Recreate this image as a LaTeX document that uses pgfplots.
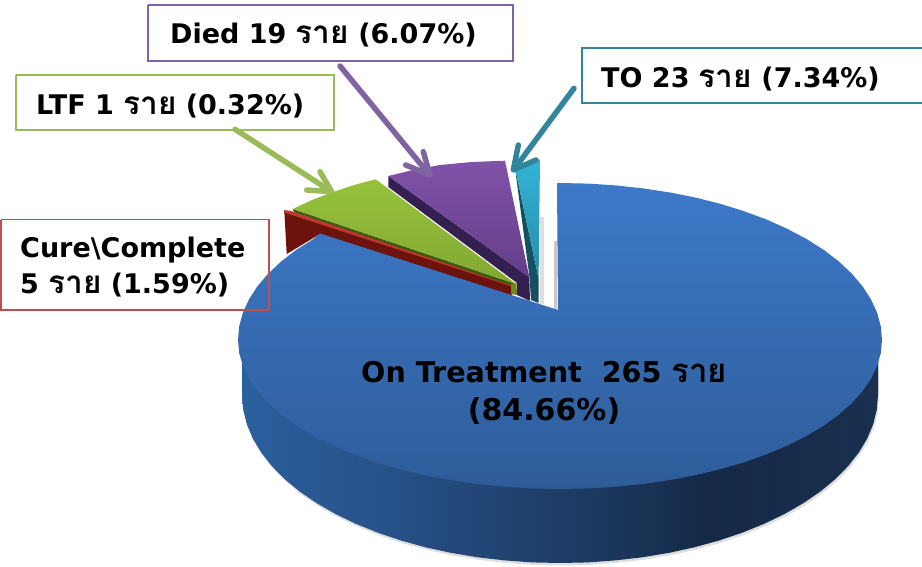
\documentclass[border=0pt]{standalone}
\usepackage{pgfplots}
\pgfplotsset{compat=1.18}
\usepackage{fontspec}
\setmainfont{DejaVu Sans}
\newfontfamily\thaifont[Script=Thai]{Loma}
\definecolor{boxpurple}{HTML}{8064A2}
\definecolor{boxgreen}{HTML}{9BBB59}
\definecolor{boxred}{HTML}{C0504D}
\definecolor{boxteal}{HTML}{31859C}
\definecolor{sa}{HTML}{2B5F9E}
\definecolor{sb}{HTML}{27538C}
\definecolor{sc}{HTML}{1E3D66}
\definecolor{sd}{HTML}{152946}
\definecolor{se}{HTML}{19304F}
\pgfdeclarehorizontalshading{sideshade}{100bp}{
 color(0bp)=(sa);
 color(25bp)=(sa);
 color(35bp)=(sb);
 color(50bp)=(sc);
 color(62bp)=(sd);
 color(75bp)=(se);
 color(100bp)=(se)}
\pgfplotstableread{
x y
242 340
242 395
243.2 409.6
246.8 424.2
252.8 438.5
261.2 452.5
271.8 466
284.6 479
299.5 491.4
316.4 503
335.1 513.8
355.6 523.7
377.6 532.6
401 540.5
425.6 547.3
451.2 552.9
477.7 557.3
504.8 560.4
532.3 562.4
560 563
587.7 562.4
615.2 560.4
642.3 557.3
668.8 552.9
694.4 547.3
719 540.5
742.4 532.6
764.4 523.7
784.9 513.8
803.6 503
820.5 491.4
835.4 479
848.2 466
858.8 452.5
867.2 438.5
873.2 424.2
876.8 409.6
878 395
878 340
}\sidetable
\begin{document}
\begin{tikzpicture}
\begin{axis}[
 width=922pt,height=566pt,scale only axis,
 xmin=0,xmax=922,ymin=0,ymax=566,y dir=reverse,
 axis lines=none,enlargelimits=false,clip=true,no markers]

% soft shadows
\addplot[fill=black!13,draw=none,yshift=-2.5pt,xshift=1pt] table {\sidetable};
\addplot[fill=black!13,draw=none] coordinates {(540,217)(543.5,217)(543.5,304)(540,304)};
\addplot[fill=black!22,draw=none] coordinates {(554,241)(557,241)(557,310)(554,310)};

% Cure/Complete slice
\addplot[fill={rgb,255:red,108;green,19;blue,14},draw=none] coordinates {(284.3,210.7)(512,285)(512,296)(320,234)(286.7,254)};
\addplot[fill={rgb,255:red,190;green,55;blue,42},draw=none] coordinates {(284,210)(291,211)(512,284)(512,286.5)(284,212.5)};

% LTF slice
\addplot[fill={rgb,255:red,60;green,90;blue,16},draw=none] coordinates {(292.7,209)(516,284)(510,285)(294,212)};
\addplot[fill={rgb,255:red,110;green,135;blue,30},draw=none] coordinates {(511,284)(516.5,283)(517,295)(511,294)};
\addplot[draw=none,shade,top color={rgb,255:red,150;green,194;blue,58},bottom color={rgb,255:red,130;green,168;blue,50}] coordinates {(292.7,209)(312,200)(333,192)(354,185)(375.7,179.3)(516,284)};

% Died slice
\addplot[fill={rgb,255:red,52;green,32;blue,80},draw=none] coordinates {(388.3,176)(529.3,277.3)(530,301)(517,295)(517,283)(388.3,187)};
\addplot[draw=none,shade,top color={rgb,255:red,128;green,82;blue,168},bottom color={rgb,255:red,100;green,62;blue,136}] coordinates {(388.3,176)(413,170)(440,165)(472,162)(505,160.7)(529.3,277.3)};

% TO slice
\addplot[fill={rgb,255:red,20;green,80;blue,96},draw=none] coordinates {(515,168)(538.6,278.5)(538.6,303)(531,300)(529.5,277)};
\addplot[draw=none,shade,top color={rgb,255:red,50;green,180;blue,214},bottom color={rgb,255:red,40;green,140;blue,170}] coordinates {(515,168)(527,163)(540,159.3)(538.6,278.5)};

% On Treatment side
\addplot[draw=none,shading=sideshade] table {\sidetable};

% On Treatment top
\addplot[draw=none,shade,top color={rgb,255:red,61;green,121;blue,201},bottom color={rgb,255:red,46;green,92;blue,153}] coordinates {
(557,183)(560,183)(588.1,183.6)(615.9,185.4)(643.3,188.4)(670.1,192.5)(696.1,197.7)(721,204)(744.7,211.4)(767,219.7)(787.7,229)(806.7,239.1)(823.8,249.9)(838.9,261.5)(851.8,273.7)(862.6,286.3)(871,299.4)(877.1,312.7)(880.8,326.3)(882,340)
(880.8,353)(877.1,365.9)(871,378.6)(862.6,391)(851.8,403)(838.9,414.5)(823.8,425.5)(806.7,435.8)(787.7,445.4)(767,454.1)(744.7,462.1)(721,469)(696.1,475)(670.1,480)(643.3,483.9)(615.9,486.7)(588.1,488.4)(560,489)
(531.9,488.4)(504.1,486.7)(476.7,483.9)(449.9,480)(423.9,475)(399,469)(375.3,462.1)(353,454.1)(332.3,445.4)(313.3,435.8)(296.2,425.5)(281.1,414.5)(268.2,403)(257.4,391)(249,378.6)(242.9,365.9)(239.2,353)(238,340)
(239.2,326.3)(242.9,312.7)(249,299.4)(257.4,286.3)(268.2,273.7)(281.1,261.5)(296.2,249.9)(313.3,239.1)(320,233.5)(558,310)};

% Arrows
\addplot[boxgreen,line width=5.5pt,line cap=round] coordinates {(235,129.3)(329,190)};
\addplot[boxgreen,line width=5.5pt,line cap=round,line join=round] coordinates {(320,171.7)(331.7,191.7)(306.7,190)};
\addplot[boxpurple,line width=5.5pt,line cap=round] coordinates {(340,66)(428,173)};
\addplot[boxpurple,line width=5.5pt,line cap=round,line join=round] coordinates {(423.3,151.7)(430,175)(405.7,165)};
\addplot[boxteal,line width=5.5pt,line cap=round] coordinates {(574,88.3)(515,168)};
\addplot[boxteal,line width=5.5pt,line cap=round,line join=round] coordinates {(518.3,145)(513.3,170)(536,160)};

% Boxes
\addplot[boxpurple,line width=2pt] coordinates {(148,5)(513,5)(513,60.5)(148,60.5)(148,5)};
\addplot[boxgreen,line width=2pt] coordinates {(15.5,75)(334,75)(334,129.5)(15.5,129.5)(15.5,75)};
\addplot[boxred,line width=1.6pt] coordinates {(0.8,219.5)(269,219.5)(269,310)(0.8,310)(0.8,219.5)};
\addplot[boxteal,line width=2pt] coordinates {(940,48.3)(581.7,48.3)(581.7,103.3)(940,103.3)};

% Labels
\def\lab{\fontsize{27}{30}\selectfont\bfseries}
\def\rai{{\thaifont\fontsize{31.5}{30}\selectfont ราย}}
\def\raib{{\thaifont\fontsize{33}{30}\selectfont ราย}}
\node[anchor=base west,inner sep=0pt] at (axis cs:170,43.5) {\lab Died 19 \rai{} (6.07\%)};
\node[anchor=base west,inner sep=0pt] at (axis cs:36,114) {\lab LTF 1 \rai{} (0.32\%)};
\node[anchor=base west,inner sep=0pt] at (axis cs:20,257.5) {\lab Cure\textbackslash Complete};
\node[anchor=base west,inner sep=0pt] at (axis cs:20,293) {\lab 5 \rai{} (1.59\%)};
\node[anchor=base west,inner sep=0pt] at (axis cs:601,87) {\lab TO 23 \rai{} (7.34\%)};
\node[anchor=base west,inner sep=0pt] at (axis cs:361,382) {\fontsize{28.6}{32}\selectfont\bfseries On Treatment\ \ 265 \raib};
\node[anchor=base,inner sep=0pt] at (axis cs:544,420) {\fontsize{30}{32}\selectfont\bfseries (84.66\%)};
\end{axis}
\pgfresetboundingbox
\useasboundingbox (0,0) rectangle (922pt,566pt);
\end{tikzpicture}
\end{document}
